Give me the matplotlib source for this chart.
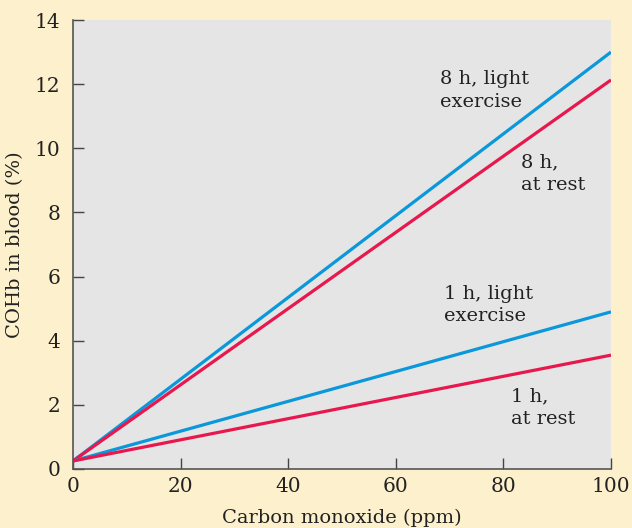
import matplotlib
matplotlib.use("Agg")
import matplotlib.pyplot as plt

# data
co_ppm = [0, 100]
cohb_8h_exercise = [0.25, 13.0]
cohb_8h_rest = [0.25, 12.13]
cohb_1h_exercise = [0.25, 4.9]
cohb_1h_rest = [0.25, 3.55]

x_ticks = [0, 20, 40, 60, 80, 100]
y_ticks = [0, 2, 4, 6, 8, 10, 12, 14]

BG = "#FDF0CC"
PLOT_BG = "#E5E5E5"
BLUE = "#0A98DA"
RED = "#E8184E"
INK = "#222222"

plt.rcParams["font.family"] = "DejaVu Serif"

fig = plt.figure(figsize=(6.32, 5.28), dpi=100, facecolor=BG)
ax = fig.add_axes([73 / 632, 59 / 528, 538 / 632, 449 / 528])
ax.set_facecolor(PLOT_BG)

lw = 2.3
ax.plot(co_ppm, cohb_8h_exercise, color=BLUE, lw=lw, solid_capstyle="butt")
ax.plot(co_ppm, cohb_8h_rest, color=RED, lw=lw, solid_capstyle="butt")
ax.plot(co_ppm, cohb_1h_exercise, color=BLUE, lw=lw, solid_capstyle="butt")
ax.plot(co_ppm, cohb_1h_rest, color=RED, lw=lw, solid_capstyle="butt")

ax.set_xlim(0, 100)
ax.set_ylim(0, 14)
ax.set_xticks(x_ticks)
ax.set_yticks(y_ticks)

for s in ("top", "right"):
    ax.spines[s].set_visible(False)
for s in ("left", "bottom"):
    ax.spines[s].set_color("#555555")
    ax.spines[s].set_linewidth(1.2)

ax.tick_params(direction="in", length=8, width=1.0, color="#444444",
               labelsize=14.5, labelcolor=INK)
ax.tick_params(axis="y", pad=9)
ax.tick_params(axis="x", pad=6)

ax.set_xlabel("Carbon monoxide (ppm)", fontsize=14, color=INK, labelpad=9)
ax.set_ylabel("COHb in blood (%)", fontsize=14, color=INK, labelpad=8)

txt = dict(fontsize=14, color=INK, va="top", ha="left", linespacing=1.35)
ax.text(68.2, 12.45, "8 h, light\nexercise", **txt)
ax.text(83.2, 9.85, "8 h,\nat rest", **txt)
ax.text(69.0, 5.75, "1 h, light\nexercise", **txt)
ax.text(81.5, 2.55, "1 h,\nat rest", **txt)

fig.savefig("out.png", dpi=100, facecolor=BG)
